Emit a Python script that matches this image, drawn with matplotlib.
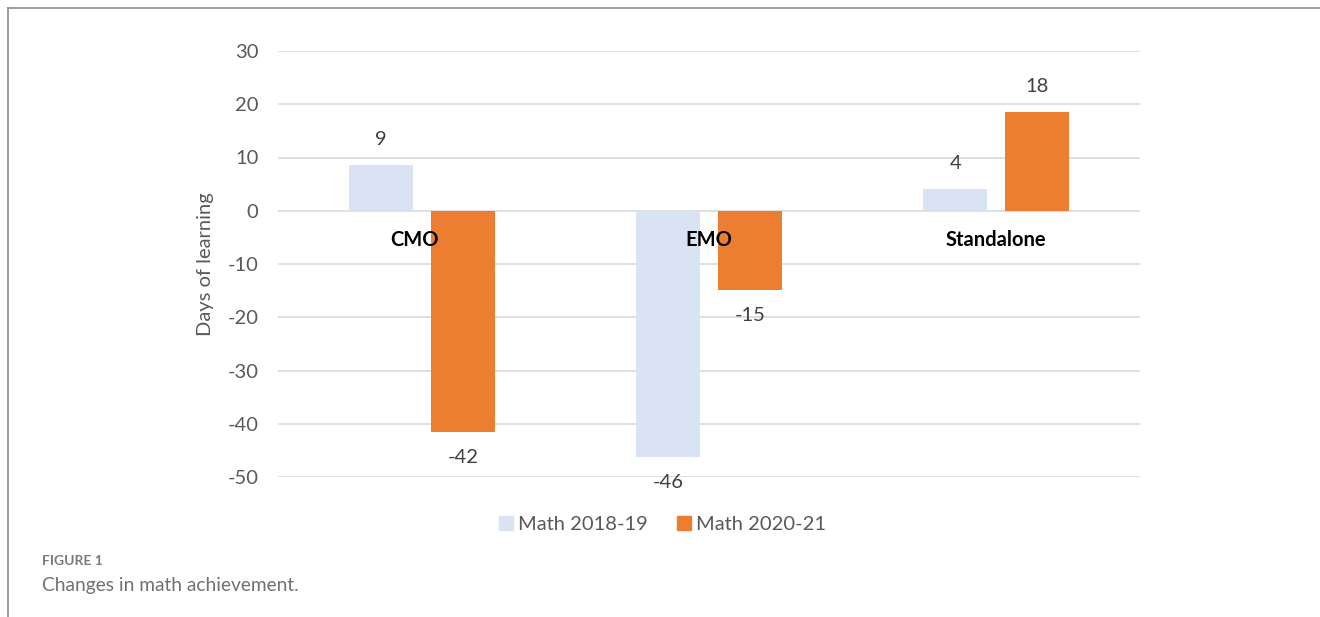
import matplotlib
matplotlib.use("Agg")
import matplotlib.pyplot as plt
from matplotlib.lines import Line2D
import numpy as np

categories = ["CMO", "EMO", "Standalone"]
series_names = ["Math 2018-19", "Math 2020-21"]
math_2018_19 = [8.6, -46.2, 4.1]
math_2020_21 = [-41.6, -14.9, 18.5]
label_2018_19 = ["9", "-46", "4"]
label_2020_21 = ["-42", "-15", "18"]
yticks = [30, 20, 10, 0, -10, -20, -30, -40, -50]

colors = ["#dae3f3", "#ed7d31"]
plt.rcParams['font.family'] = ['Lato', 'DejaVu Sans']
FS = 14.5

fig = plt.figure(figsize=(13.2, 6.17), dpi=100)
ax = fig.add_axes([278/1320, 1-477/617, (1140-278)/1320, (477-51)/617])

x = np.arange(len(categories))
w = 0.223
off = 0.143
b1 = ax.bar(x - off, math_2018_19, w, color=colors[0], zorder=3)
b2 = ax.bar(x + off, math_2020_21, w, color=colors[1], zorder=3)

for bars, labels in ((b1, label_2018_19), (b2, label_2020_21)):
    for rect, lab in zip(bars, labels):
        h = rect.get_height()
        xc = rect.get_x() + rect.get_width() / 2
        dy = 18.5 if h >= 0 else -18.5
        ax.annotate(lab, (xc, h), xytext=(0, dy), textcoords="offset points",
                    ha="center", va="center", fontsize=FS, color="#404040")

for xi, cat in zip(x, categories):
    ax.text(xi - 0.025 if cat == "CMO" else xi, -5.4, cat, ha="center", va="center",
            fontsize=FS, fontweight="bold", color="black", zorder=5)

ax.set_xlim(-0.5, 2.5)
ax.set_ylim(-50, 30)
ax.set_yticks(yticks)
ax.set_yticklabels([str(t) for t in yticks])
ax.set_xticks([])
ax.grid(axis="y", color="#d9d9d9", lw=1.2, zorder=0)
for s in ax.spines.values():
    s.set_visible(False)
ax.tick_params(axis="y", length=0, pad=14, labelsize=FS, labelcolor="#595959")
ax.set_ylabel("Days of learning", fontsize=FS, color="#595959", labelpad=10)

handles = [Line2D([], [], marker="s", linestyle="none", markersize=10,
                  markerfacecolor=c, markeredgecolor=c) for c in colors]
fig.legend(handles, series_names, loc="center", bbox_to_anchor=(660/1320, 1-524/617),
           ncol=2, frameon=False, fontsize=FS, handletextpad=0.0, columnspacing=1.2,
           handlelength=1.2, labelcolor="#595959")

# page border lines
fig.add_artist(Line2D([8/1320, 1], [1-8/617, 1-8/617], color="#8c8c8c", lw=1.2))
fig.add_artist(Line2D([8/1320, 8/1320], [0, 1-8/617], color="#8c8c8c", lw=1.2))

fig.text(42/1320, 1-561/617, "FIGURE 1", fontsize=10, fontweight="bold",
         color="#7a7a7a", va="center", ha="left")
fig.text(42/1320, 1-585/617, "Changes in math achievement.", fontsize=13.8,
         color="#707070", va="center", ha="left")

fig.savefig("out.png", dpi=100)
